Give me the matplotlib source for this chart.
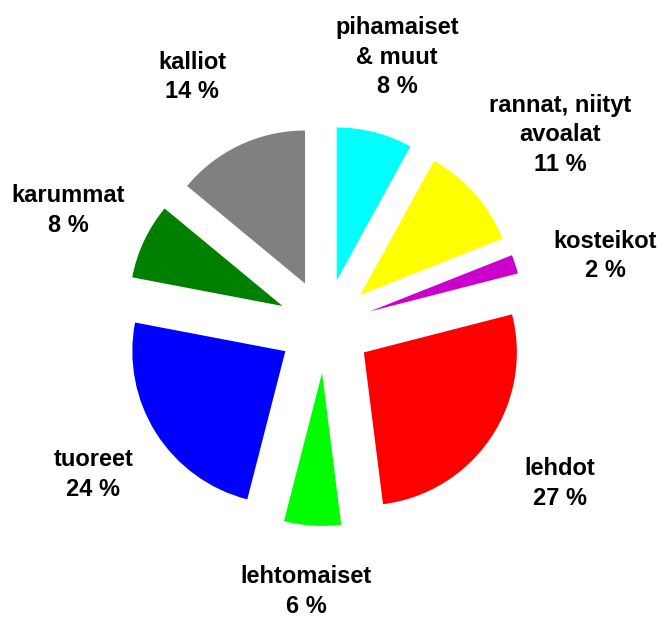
import numpy as np
import matplotlib.pyplot as plt

# data
categories = ["pihamaiset\n& muut", "rannat, niityt\navoalat", "kosteikot", "lehdot",
              "lehtomaiset", "tuoreet", "karummat", "kalliot"]
shares = [8, 11, 2, 27, 6, 24, 8, 14]
colors = ["#00FFFF", "#FFFF00", "#CC00CC", "#FF0000",
          "#00FF00", "#0000FF", "#008000", "#808080"]

# label placement (angle in degrees, distance in pie radii) - layout only
label_pos = [(75.0, 1.82), (39.1, 1.98), (14.0, 1.89), (-33.9, 1.85),
             (-94.1, 1.74), (-147.3, 1.80), (155.7, 1.84), (118.1, 1.845)]

plt.rcParams['font.family'] = ['Liberation Sans', 'DejaVu Sans']

fig = plt.figure(figsize=(6.61, 6.19), dpi=100)
ax = fig.add_axes([0, 0, 1, 1])

ax.pie(shares, colors=colors, startangle=90, counterclock=False,
       explode=[0.307] * len(shares), radius=1.0,
       wedgeprops=dict(linewidth=0))

for name, val, (ang, dist) in zip(categories, shares, label_pos):
    a = np.deg2rad(ang)
    ax.text(dist * np.cos(a), dist * np.sin(a), f"{name}\n{val} %",
            ha="center", va="center", fontsize=17, fontweight="bold",
            linespacing=1.38, multialignment="center")

ax.set_xlim(-325 / 153, (661 - 325) / 153)
ax.set_ylim(-293 / 153, (619 - 293) / 153)
ax.set_aspect("auto")
ax.axis("off")

fig.savefig("out.png", dpi=100)
